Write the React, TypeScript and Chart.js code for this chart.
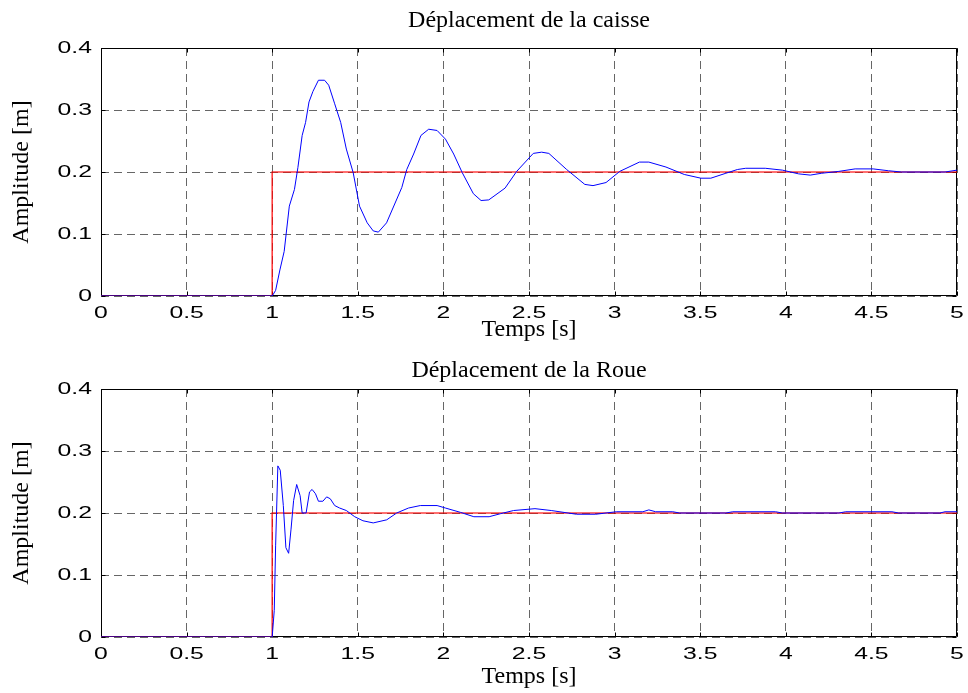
import React, { useEffect, useRef } from 'react';
import { Chart, registerables } from 'chart.js';

Chart.register(...registerables);

// ---- Data ----
const caisseT = [0, 1.0, 1.02, 1.045, 1.07, 1.1, 1.13, 1.15, 1.175, 1.195, 1.215, 1.238, 1.27, 1.306, 1.33, 1.365, 1.4, 1.433, 1.473, 1.51, 1.555, 1.59, 1.62, 1.668, 1.718, 1.757, 1.786, 1.826, 1.869, 1.914, 1.963, 2.012, 2.06, 2.11, 2.175, 2.22, 2.265, 2.36, 2.428, 2.525, 2.574, 2.616, 2.72, 2.826, 2.874, 2.95, 3.03, 3.145, 3.2, 3.3, 3.407, 3.504, 3.562, 3.65, 3.717, 3.766, 3.88, 3.98, 4.075, 4.143, 4.21, 4.31, 4.405, 4.51, 4.6, 4.676, 4.93, 5.0];
const caisseY = [0, 0, 0.009, 0.042, 0.072, 0.145, 0.172, 0.207, 0.259, 0.28, 0.313, 0.33, 0.348, 0.348, 0.34, 0.31, 0.28, 0.237, 0.199, 0.145, 0.118, 0.105, 0.103, 0.118, 0.15, 0.175, 0.204, 0.229, 0.259, 0.269, 0.267, 0.253, 0.229, 0.199, 0.165, 0.154, 0.155, 0.174, 0.201, 0.23, 0.232, 0.23, 0.204, 0.18, 0.178, 0.183, 0.201, 0.216, 0.216, 0.208, 0.196, 0.19, 0.19, 0.198, 0.204, 0.206, 0.206, 0.203, 0.197, 0.195, 0.198, 0.201, 0.205, 0.205, 0.202, 0.2, 0.2, 0.203];

const roueT = [0, 1.0, 1.012, 1.02, 1.033, 1.047, 1.065, 1.08, 1.096, 1.11, 1.125, 1.143, 1.163, 1.175, 1.198, 1.218, 1.233, 1.253, 1.27, 1.296, 1.318, 1.339, 1.365, 1.394, 1.433, 1.482, 1.53, 1.59, 1.669, 1.727, 1.796, 1.865, 1.963, 2.012, 2.1, 2.178, 2.267, 2.335, 2.41, 2.535, 2.63, 2.777, 2.89, 3.01, 3.165, 3.2, 3.24, 3.34, 3.38, 3.65, 3.69, 3.94, 3.98, 4.31, 4.35, 4.62, 4.66, 4.9, 4.93, 5.0];
const roueY = [0, 0, 0.043, 0.147, 0.276, 0.269, 0.212, 0.144, 0.135, 0.174, 0.22, 0.246, 0.228, 0.2, 0.2, 0.234, 0.238, 0.231, 0.219, 0.219, 0.226, 0.223, 0.212, 0.208, 0.204, 0.194, 0.1875, 0.184, 0.189, 0.2, 0.208, 0.212, 0.212, 0.208, 0.201, 0.194, 0.194, 0.199, 0.204, 0.207, 0.204, 0.198, 0.198, 0.202, 0.202, 0.205, 0.202, 0.202, 0.2, 0.2, 0.202, 0.202, 0.2, 0.2, 0.202, 0.202, 0.2, 0.2, 0.202, 0.202];

const stepT = [0, 1, 1, 5];
const stepY = [0, 0, 0.2, 0.2];

const xTicks = [0, 0.5, 1, 1.5, 2, 2.5, 3, 3.5, 4, 4.5, 5];
const xTickLabels = ['0', '0.5', '1', '1.5', '2', '2.5', '3', '3.5', '4', '4.5', '5'];
const yTicks = [0, 0.1, 0.2, 0.3, 0.4];
const yTickLabels = ['0', '0.1', '0.2', '0.3', '0.4'];

const titleTop = 'Déplacement de la caisse';
const titleBottom = 'Déplacement de la Roue';
const xTitle = 'Temps [s]';
const yTitle = 'Amplitude [m]';

const SERIF = '"Liberation Serif", "Times New Roman", serif';
const SANS = '"Liberation Sans", Arial, sans-serif';

// Box, inward ticks (MATLAB style)
const framePlugin = {
  id: 'frame',
  beforeDatasetsDraw(chart: any) {
    const { ctx, chartArea: a, scales } = chart;
    const L = Math.round(a.left) + 0.5;
    const R = Math.round(a.right) - 0.5;
    const T = Math.round(a.top) + 0.5;
    const B = Math.round(a.bottom) - 0.5;
    ctx.save();
    ctx.strokeStyle = '#000';
    ctx.lineWidth = 1;
    ctx.setLineDash([]);
    ctx.beginPath();
    ctx.moveTo(L, T);
    ctx.lineTo(R, T);
    ctx.lineTo(R, B);
    ctx.lineTo(L, B);
    ctx.closePath();
    const tl = 4;
    xTicks.forEach((v) => {
      const px = Math.round(scales.x.getPixelForValue(v)) + 0.5;
      ctx.moveTo(px, B);
      ctx.lineTo(px, B - tl);
      ctx.moveTo(px, T);
      ctx.lineTo(px, T + tl);
    });
    yTicks.forEach((v) => {
      const py = Math.round(scales.y.getPixelForValue(v)) + 0.5;
      ctx.moveTo(L, py);
      ctx.lineTo(L + tl, py);
      ctx.moveTo(R, py);
      ctx.lineTo(R - tl, py);
    });
    ctx.stroke();
    ctx.restore();
  },
};

// Tick labels drawn with a horizontal stretch (like the reference's wide labels)
const STRETCH = 1.5;
const tickLabelPlugin = {
  id: 'tickLabels',
  afterDraw(chart: any) {
    const { ctx, chartArea: a, scales } = chart;
    ctx.save();
    ctx.fillStyle = '#000';
    ctx.font = `16.5px ${SANS}`;
    ctx.textBaseline = 'middle';
    xTicks.forEach((v, i) => {
      const px = scales.x.getPixelForValue(v);
      ctx.save();
      ctx.translate(px, a.bottom + 17);
      ctx.scale(STRETCH, 1);
      ctx.textAlign = 'center';
      ctx.fillText(xTickLabels[i], 0, 0);
      ctx.restore();
    });
    yTicks.forEach((v, i) => {
      const py = scales.y.getPixelForValue(v);
      ctx.save();
      ctx.translate(a.left - 9, py);
      ctx.scale(STRETCH, 1);
      ctx.textAlign = 'right';
      ctx.fillText(yTickLabels[i], 0, 0);
      ctx.restore();
    });
    ctx.restore();
  },
};

function toPoints(t: number[], y: number[]) {
  return t.map((v, i) => ({ x: v, y: y[i] }));
}

function makeConfig(opts: {
  title: string;
  t: number[];
  y: number[];
  titlePadTop: number;
  titlePadBottom: number;
  xAxisHeight: number;
  xTitlePadBottom: number;
}): any {
  return {
    type: 'line',
    data: {
      datasets: [
        {
          data: toPoints(opts.t, opts.y),
          borderColor: '#0000ff',
          borderWidth: 1,
          pointRadius: 0,
          tension: 0,
          fill: false,
        },
        {
          data: toPoints(stepT, stepY),
          borderColor: 'rgba(255,0,0,0.75)',
          borderWidth: 1.6,
          pointRadius: 0,
          tension: 0,
          fill: false,
        },
      ],
    },
    options: {
      responsive: false,
      animation: false,
      events: [],
      layout: { padding: { top: 0, left: 0, right: 11, bottom: 0 } },
      plugins: {
        legend: { display: false },
        tooltip: { enabled: false },
        title: {
          display: true,
          text: opts.title,
          fullSize: false,
          color: '#000',
          font: { family: SERIF, size: 24, weight: 'normal', lineHeight: 1 },
          padding: { top: opts.titlePadTop, bottom: opts.titlePadBottom },
        },
      },
      scales: {
        x: {
          type: 'linear',
          min: 0,
          max: 5,
          afterBuildTicks: (scale: any) => {
            scale.ticks = xTicks.map((v) => ({ value: v }));
          },
          afterFit: (scale: any) => {
            scale.height = opts.xAxisHeight;
          },
          ticks: { display: false },
          grid: { color: 'rgba(0,0,0,0.6)', lineWidth: 1, drawTicks: false },
          border: { display: false, dash: [8, 5] },
          title: {
            display: true,
            text: xTitle,
            color: '#000',
            font: { family: SERIF, size: 24, weight: 'normal', lineHeight: 1 },
            padding: { top: 0, bottom: opts.xTitlePadBottom },
          },
        },
        y: {
          type: 'linear',
          min: 0,
          max: 0.4,
          afterBuildTicks: (scale: any) => {
            scale.ticks = yTicks.map((v) => ({ value: v }));
          },
          afterFit: (scale: any) => {
            scale.width = 101;
          },
          ticks: { display: false },
          grid: { color: 'rgba(0,0,0,0.6)', lineWidth: 1, drawTicks: false },
          border: { display: false, dash: [8, 5] },
          title: {
            display: true,
            text: yTitle,
            color: '#000',
            font: { family: SERIF, size: 24, weight: 'normal', lineHeight: 1 },
            padding: { top: 10, bottom: 0 },
          },
        },
      },
    },
    plugins: [framePlugin, tickLabelPlugin],
  };
}

function Panel(props: { cfg: any; top: number; height: number }) {
  const ref = useRef<HTMLCanvasElement | null>(null);
  useEffect(() => {
    if (!ref.current) return;
    const chart = new Chart(ref.current, props.cfg);
    return () => chart.destroy();
  }, []);
  return (
    <canvas
      ref={ref}
      width={968}
      height={props.height}
      style={{ position: 'absolute', left: 0, top: props.top, width: 968, height: props.height, display: 'block' }}
    />
  );
}

export default function App() {
  const topCfg = makeConfig({
    title: titleTop,
    t: caisseT,
    y: caisseY,
    titlePadTop: 9,
    titlePadBottom: 15,
    xAxisHeight: 50,
    xTitlePadBottom: 4.5,
  });
  const bottomCfg = makeConfig({
    title: titleBottom,
    t: roueT,
    y: roueY,
    titlePadTop: 13,
    titlePadBottom: 6,
    xAxisHeight: 56,
    xTitlePadBottom: 4,
  });
  return (
    <div style={{ position: 'absolute', left: 0, top: 0, width: 968, height: 693, background: '#fff' }}>
      <Panel cfg={topCfg} top={0} height={346} />
      <Panel cfg={bottomCfg} top={346} height={347} />
    </div>
  );
}
